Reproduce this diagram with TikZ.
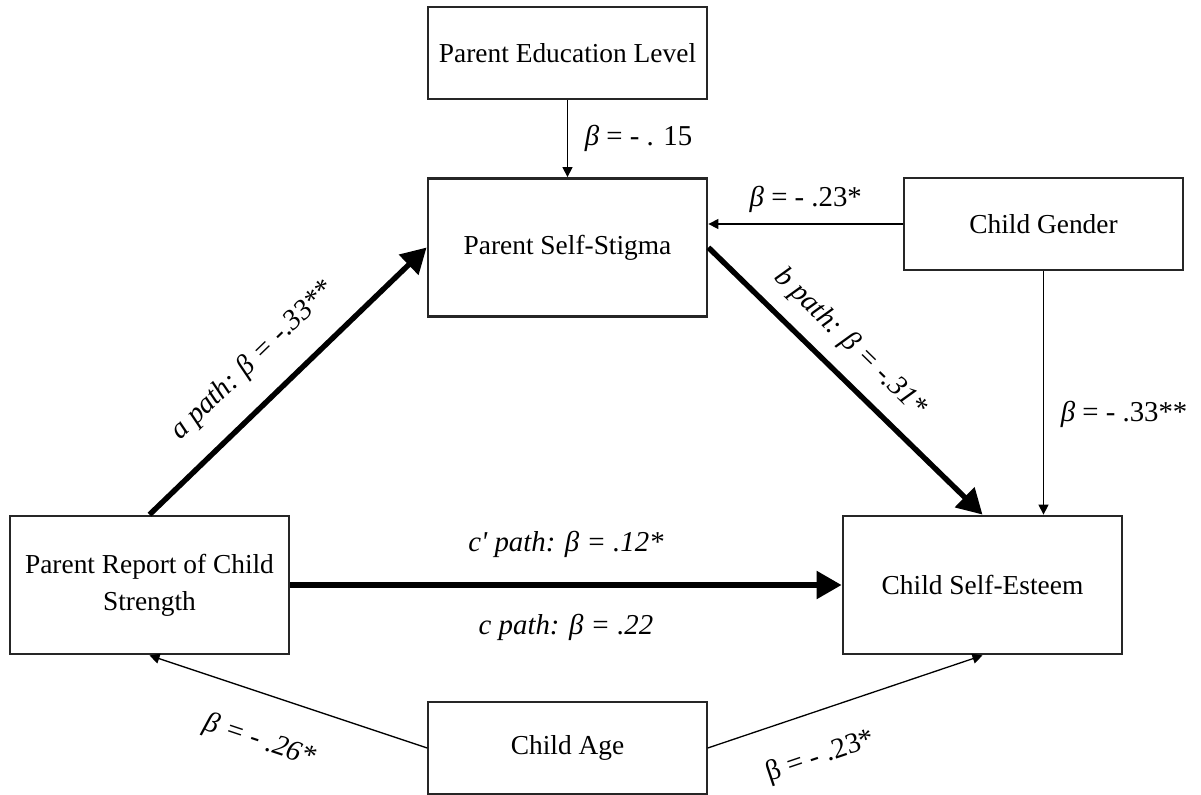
\documentclass[tikz,border=0pt]{standalone}
\usepackage{fontspec}
\setmainfont{Liberation Serif}
\usetikzlibrary{arrows.meta}
\tikzset{
  box/.style={draw=black!85,line width=0.75pt,minimum width=139.5pt,minimum height=46pt,
    align=center,font=\fontsize{13.7}{18.5}\selectfont},
  bigbox/.style={box,line width=1.4pt,minimum height=69pt},
  lightarrow/.style={-{Triangle[length=5pt,width=5pt]},line width=0.65pt},
  heavyarrow/.style={-{Triangle[length=12.5pt,width=13.5pt]},line width=2.7pt},
  lbl/.style={font=\fontsize{14.4}{16}\selectfont}
}
\newcommand{\bt}{\textit{β}}
\begin{document}
\begin{tikzpicture}[x=0.5pt,y=-0.5pt]
\clip (0,0) rectangle (1201,794);
\node[box] (edu) at (567.5,53) {Parent Education Level};
\node[bigbox] (stigma) at (567.5,247.5) {Parent Self-Stigma};
\node[box] (gender) at (1043.5,224) {Child Gender};
\node[bigbox] (strength) at (149.5,585) {Parent Report of Child\\Strength};
\node[bigbox] (esteem) at (982.5,585) {Child Self-Esteem};
\node[box] (age) at (567.5,748) {Child Age};

\draw[lightarrow] (edu) -- (stigma) node[lbl,midway,right=5pt] {\bt{} = - . 15};
\draw[lightarrow] (gender.west) -- (gender.west -| stigma.east)
  node[lbl,midway,above=2pt] {\bt{} = - .23*};
\draw[lightarrow] (gender) -- (gender |- esteem.north)
  node[lbl,pos=0.59,right=5pt] {\bt{} = - .33**};
\draw[heavyarrow] (strength.north) -- (stigma.west)
  node[lbl,sloped,pos=0.47,above=8pt] {\textit{a path: β = -.33**}};
\draw[heavyarrow] (stigma.east) -- (esteem.north)
  node[lbl,sloped,pos=0.44,above=4pt] {\textit{b path: β = -.31*}};
\draw[heavyarrow] (strength) -- (esteem)
  node[lbl,midway,above=9pt] {\textit{c\textquotesingle{} path: β = .12*}}
  node[lbl,midway,below=10pt] {\textit{c path: β = .22}};
\draw[lightarrow] (age.west) -- (strength.south)
  node[lbl,sloped,pos=0.55,below=13pt] {\textit{β = - .26*}};
\draw[lightarrow] (age.east) -- (esteem.south)
  node[lbl,sloped,pos=0.36,below=12pt] {β = - .23*};
\end{tikzpicture}
\end{document}
